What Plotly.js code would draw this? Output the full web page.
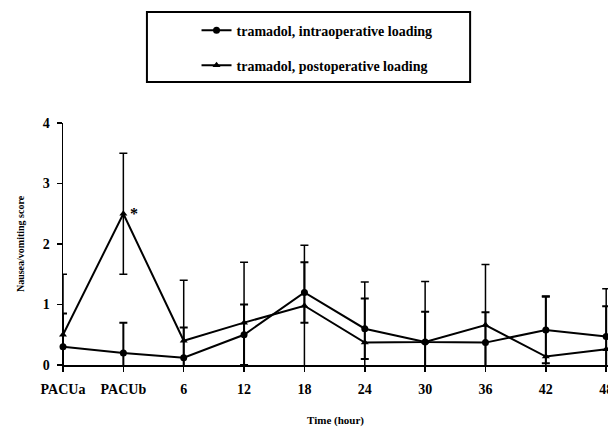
<!DOCTYPE html>
<html>
<head>
<meta charset="utf-8">
<script src="https://cdn.plot.ly/plotly-3.0.1.min.js"></script>
<style>html,body{margin:0;padding:0;background:#fff;}#chart{width:608px;height:427px;}</style>
</head>
<body>
<div id="chart"></div>
<script>
// Data
const timeLabels = ["PACUa", "PACUb", "6", "12", "18", "24", "30", "36", "42", "48"];
const intraMean = [0.3, 0.2, 0.12, 0.5, 1.2, 0.6, 0.38, 0.37, 0.58, 0.47];
const intraSD   = [0.55, 0.5, 0.5, 0.5, 0.5, 0.5, 0.5, 0.5, 0.55, 0.5];
const postMean  = [0.5, 2.5, 0.4, 0.7, 0.98, 0.37, 0.38, 0.66, 0.14, 0.26];
const postSD    = [1.0, 1.0, 1.0, 1.0, 1.0, 1.0, 1.0, 1.0, 1.0, 1.0];
const seriesNames = ["tramadol, intraoperative loading", "tramadol, postoperative loading"];

const serif = "Liberation Serif, Times New Roman, serif";

const traces = [
  {
    x: timeLabels, y: intraMean, name: seriesNames[0], type: "scatter", mode: "lines+markers",
    line: {color: "#000", width: 2}, marker: {symbol: "circle", size: 7, color: "#000"},
    error_y: {type: "data", array: intraSD, visible: true, color: "#000", thickness: 2, width: 4},
    cliponaxis: false, legend: "legend"
  },
  {
    x: timeLabels, y: postMean, name: seriesNames[1], type: "scatter", mode: "lines+markers",
    line: {color: "#000", width: 2}, marker: {symbol: "triangle-up", size: 7, color: "#000"},
    error_y: {type: "data", array: postSD, visible: true, color: "#000", thickness: 1.5, width: 4},
    cliponaxis: false, legend: "legend2"
  }
];

const legendFont = {family: serif, size: 14, color: "#000", weight: "bold"};

const layout = {
  width: 608, height: 427,
  margin: {l: 63, r: 0, t: 123, b: 62},
  paper_bgcolor: "#fff", plot_bgcolor: "#fff",
  font: {family: serif, color: "#000"},
  showlegend: true,
  xaxis: {
    type: "category", range: [0, 9.03], showgrid: false, zeroline: false,
    showline: true, linecolor: "#000", linewidth: 1.5,
    ticks: "outside", ticklen: 5, tickwidth: 1.5, tickcolor: "#000",
    ticklabelstandoff: 6,
    tickfont: {family: serif, size: 14, color: "#000", weight: "bold"},
    title: {text: "Time (hour)", font: {family: serif, size: 11, color: "#000", weight: "bold"}, standoff: 20},
    fixedrange: true
  },
  yaxis: {
    range: [0, 4], tickvals: [0, 1, 2, 3, 4], showgrid: false, zeroline: false,
    showline: true, linecolor: "#000", linewidth: 1.5,
    ticks: "outside", ticklen: 5, tickwidth: 1.5, tickcolor: "#000",
    ticklabelstandoff: 4,
    tickfont: {family: serif, size: 14, color: "#000", weight: "bold"},
    title: {text: "Nausea/vomiting score", font: {family: serif, size: 10, color: "#000", weight: "bold"}, standoff: 16},
    fixedrange: true
  },
  legend: {
    x: 0.245, y: 1.382, xanchor: "left", yanchor: "middle",
    bgcolor: "rgba(0,0,0,0)", borderwidth: 0, font: legendFont, itemwidth: 30
  },
  legend2: {
    x: 0.245, y: 1.237, xanchor: "left", yanchor: "middle",
    bgcolor: "rgba(0,0,0,0)", borderwidth: 0, font: legendFont, itemwidth: 30
  },
  shapes: [
    {type: "rect", xref: "paper", yref: "paper", x0: 0.154, x1: 0.747, y0: 1.169, y1: 1.459,
     line: {color: "#000", width: 2}, fillcolor: "rgba(0,0,0,0)"}
  ],
  annotations: [
    {x: "PACUb", y: postMean[1], xref: "x", yref: "y", text: "*", showarrow: false,
     xshift: 11, yshift: 0, font: {family: serif, size: 16, color: "#000", weight: "bold"}}
  ]
};

Plotly.newPlot("chart", traces, layout, {displayModeBar: false, staticPlot: true});
</script>
</body>
</html>
